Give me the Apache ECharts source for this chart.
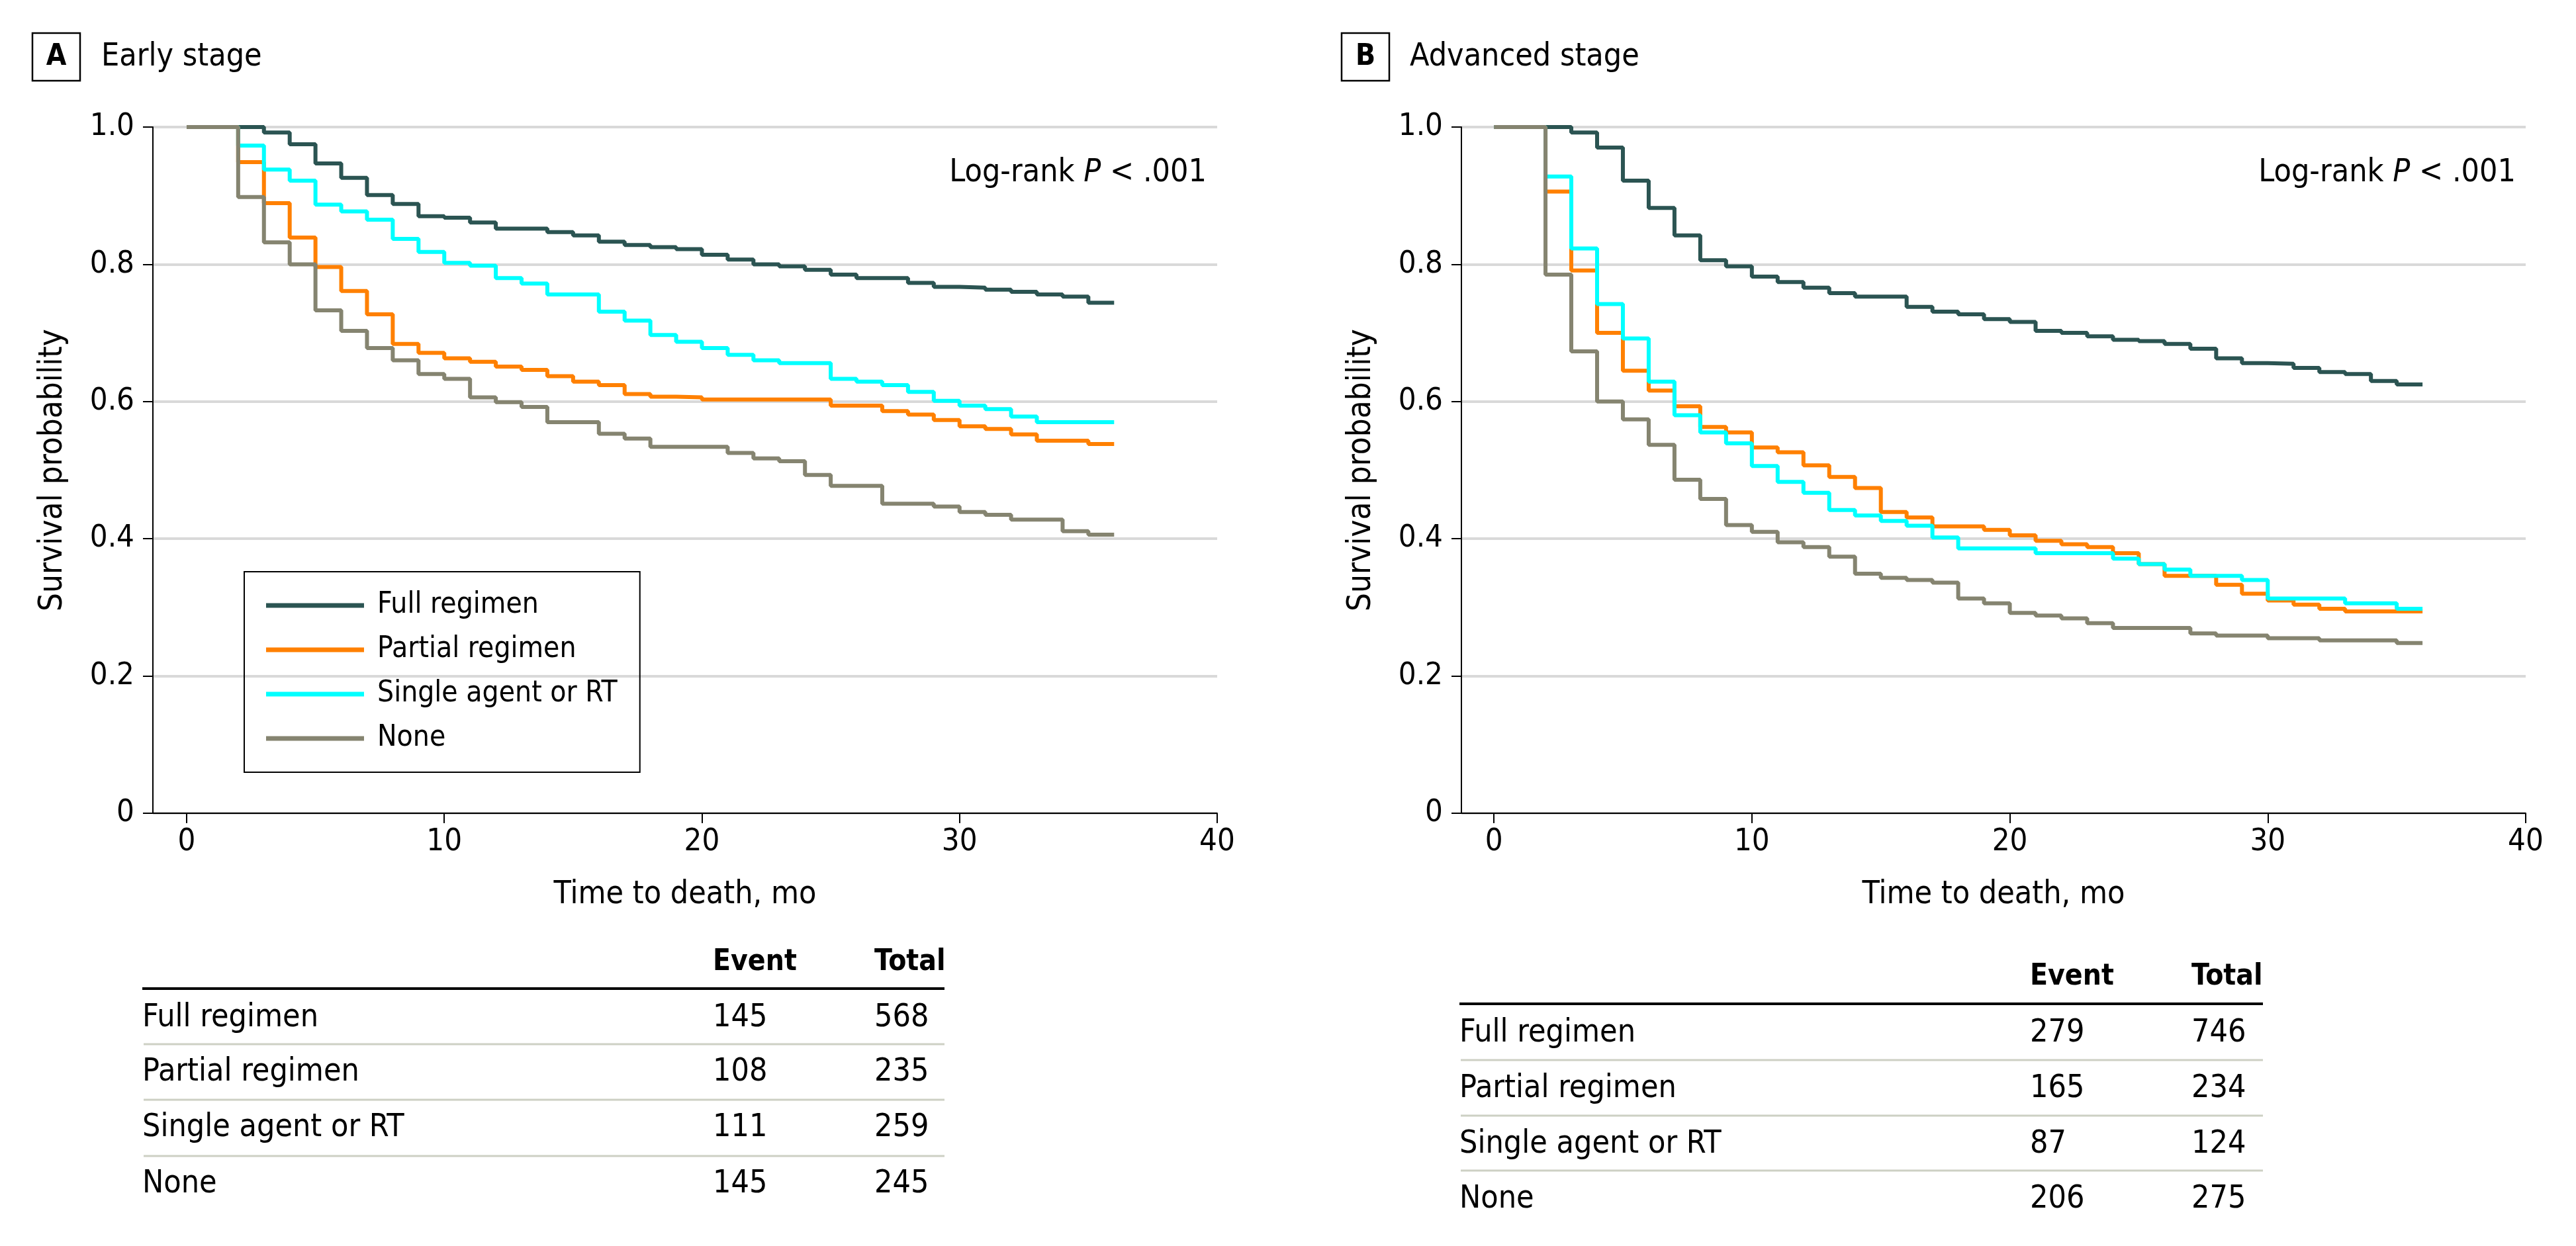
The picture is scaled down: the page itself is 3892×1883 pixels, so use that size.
<!DOCTYPE html>
<html>
<head>
<meta charset="utf-8">
<script src="https://cdn.jsdelivr.net/npm/echarts@6/dist/echarts.min.js"></script>
<style>
html,body{margin:0;padding:0;background:#fff;}
#c{width:3892px;height:1883px;}
</style>
</head>
<body>
<div id="c"></div>
<script>
// ---------- data ----------
const months = [0,1,2,3,4,5,6,7,8,9,10,11,12,13,14,15,16,17,18,19,20,21,22,23,24,25,26,27,28,29,30,31,32,33,34,35,36];
const groups = ['Full regimen','Partial regimen','Single agent or RT','None'];

const earlyFull    = [1,1,1,0.992,0.975,0.947,0.926,0.901,0.888,0.870,0.868,0.861,0.852,0.852,0.847,0.842,0.833,0.828,0.825,0.822,0.814,0.807,0.800,0.797,0.792,0.785,0.780,0.780,0.773,0.767,0.766,0.763,0.760,0.756,0.753,0.744,0.744];
const earlyPartial = [1,1,0.949,0.889,0.839,0.796,0.761,0.727,0.684,0.671,0.663,0.658,0.651,0.646,0.637,0.629,0.624,0.611,0.607,0.606,0.603,0.603,0.603,0.603,0.603,0.594,0.594,0.586,0.581,0.573,0.564,0.560,0.552,0.543,0.543,0.538,0.538];
const earlySingle  = [1,1,0.973,0.938,0.922,0.887,0.877,0.865,0.837,0.818,0.802,0.798,0.780,0.772,0.756,0.756,0.731,0.718,0.697,0.687,0.678,0.668,0.660,0.656,0.656,0.633,0.629,0.624,0.614,0.601,0.594,0.589,0.578,0.570,0.570,0.570,0.570];
const earlyNone    = [1,1,0.898,0.832,0.800,0.733,0.703,0.678,0.660,0.640,0.633,0.606,0.599,0.592,0.570,0.570,0.553,0.546,0.534,0.534,0.534,0.525,0.517,0.513,0.493,0.477,0.477,0.451,0.451,0.447,0.439,0.435,0.428,0.428,0.411,0.406,0.406];

const advFull    = [1,1,1,0.992,0.970,0.922,0.882,0.842,0.806,0.797,0.782,0.774,0.766,0.758,0.753,0.753,0.738,0.731,0.727,0.720,0.716,0.703,0.700,0.695,0.690,0.688,0.684,0.677,0.663,0.656,0.655,0.649,0.643,0.640,0.630,0.625,0.625];
const advPartial = [1,1,0.906,0.791,0.700,0.645,0.616,0.593,0.563,0.555,0.533,0.526,0.507,0.490,0.474,0.439,0.431,0.418,0.418,0.413,0.405,0.397,0.392,0.388,0.379,0.363,0.346,0.346,0.333,0.320,0.310,0.304,0.298,0.294,0.294,0.294,0.294];
const advSingle  = [1,1,0.928,0.823,0.742,0.692,0.629,0.580,0.555,0.539,0.506,0.483,0.467,0.442,0.434,0.426,0.419,0.402,0.386,0.386,0.386,0.379,0.379,0.379,0.371,0.363,0.355,0.346,0.346,0.340,0.313,0.313,0.313,0.306,0.306,0.298,0.298];
const advNone    = [1,1,0.785,0.673,0.600,0.574,0.537,0.486,0.458,0.420,0.410,0.395,0.388,0.374,0.349,0.343,0.340,0.336,0.313,0.306,0.292,0.288,0.284,0.277,0.270,0.270,0.270,0.262,0.259,0.259,0.255,0.255,0.252,0.252,0.252,0.248,0.248];

const xTicks = [0,10,20,30,40];
const tableHeaders = ['Event','Total'];
const earlyEvents = [145,108,111,145];
const earlyTotals = [568,235,259,245];
const advEvents   = [279,165,87,206];
const advTotals   = [746,234,124,275];

const panelTitles = ['Early stage','Advanced stage'];
const panelLetters = ['A','B'];
const pText = ['Log-rank ','P',' < .001'];

// ---------- style ----------
const FF = '"DejaVu Sans Condensed", "DejaVu Sans", sans-serif';
const colors = ['#2b5452','#ff8000','#00ffff','#858470'];

const layouts = [
  {gridLeft:231, xMin:-1.31, boxX:49, titleX:153, logX:1823,
   tblLeft:215, tblEvent:1077, tblTotal:1321, tblRight:1427, headY:1455, thickY:1494,
   rowY:[1539,1621,1705,1790], sepY:[1578,1662,1747]},
  {gridLeft:2208, xMin:-1.26, boxX:2027, titleX:2130, logX:3801,
   tblLeft:2205, tblEvent:3067, tblTotal:3311, tblRight:3419, headY:1477, thickY:1517,
   rowY:[1562,1646,1730,1813], sepY:[1602,1686,1769]}
];

const panelSeries = [
  [earlyFull, earlyPartial, earlySingle, earlyNone],
  [advFull, advPartial, advSingle, advNone]
];
const panelEvents = [earlyEvents, advEvents];
const panelTotals = [earlyTotals, advTotals];

const chart = echarts.init(document.getElementById('c'), null, {renderer:'canvas'});

const grids = [], xAxes = [], yAxes = [], series = [], graphic = [];

layouts.forEach((L, p) => {
  grids.push({left:L.gridLeft, top:192, width:1608, height:1037, containLabel:false});
  xAxes.push({
    type:'value', gridIndex:p, min:L.xMin, max:40,
    name:'Time to death, mo', nameLocation:'middle', nameGap:100,
    nameTextStyle:{fontFamily:FF, fontSize:48, color:'#000'},
    axisLine:{show:true, onZero:false, lineStyle:{color:'#000', width:2}},
    axisTick:{show:true, customValues:xTicks, length:15, lineStyle:{color:'#000', width:2}},
    axisLabel:{show:true, customValues:xTicks, margin:20, fontFamily:FF, fontSize:47, color:'#000'},
    splitLine:{show:false}
  });
  yAxes.push({
    type:'value', gridIndex:p, min:0, max:1, interval:0.2,
    name:'Survival probability', nameLocation:'middle', nameGap:126, nameRotate:90,
    nameTextStyle:{fontFamily:FF, fontSize:49, color:'#000'},
    axisLine:{show:true, onZero:false, lineStyle:{color:'#000', width:2}},
    axisTick:{show:true, length:15, lineStyle:{color:'#000', width:2}},
    axisLabel:{margin:28, fontFamily:FF, fontSize:47, color:'#000',
      formatter: v => (v === 0 ? '0' : v.toFixed(1))},
    splitLine:{show:true, lineStyle:{color:'#d9d9d9', width:4}}
  });
  panelSeries[p].forEach((vals, k) => {
    series.push({
      name:groups[k], type:'line', step:'end', xAxisIndex:p, yAxisIndex:p,
      symbol:'none', showSymbol:false,
      data: months.map((m, i) => [m, vals[i]]),
      lineStyle:{color:colors[k], width:6},
      itemStyle:{color:colors[k]},
      emphasis:{disabled:true},
      z: 2 + k
    });
  });

  // panel header
  graphic.push({type:'rect', shape:{x:L.boxX, y:50, width:72, height:72},
    style:{fill:'none', stroke:'#000', lineWidth:2.5}, silent:true});
  graphic.push({type:'text', x:L.boxX + 36, y:87, silent:true,
    style:{text:panelLetters[p], fontFamily:FF, fontWeight:'bold', fontSize:44, fill:'#000', align:'center', verticalAlign:'middle'}});
  graphic.push({type:'text', x:L.titleX, y:87, silent:true,
    style:{text:panelTitles[p], fontFamily:FF, fontSize:48, fill:'#000', align:'left', verticalAlign:'middle'}});

  // log-rank
  graphic.push({type:'text', x:L.logX, y:262, silent:true,
    style:{text:'{a|' + pText[0] + '}{i|' + pText[1] + '}{a|' + pText[2] + '}',
      align:'right', verticalAlign:'middle',
      rich:{a:{fontFamily:FF, fontSize:48, fill:'#000', color:'#000'},
            i:{fontFamily:FF, fontSize:48, fontStyle:'italic', fill:'#000', color:'#000'}}}});

  // table
  graphic.push({type:'text', x:L.tblEvent, y:L.headY, silent:true,
    style:{text:tableHeaders[0], fontFamily:FF, fontWeight:'bold', fontSize:44, fill:'#000', align:'left', verticalAlign:'middle'}});
  graphic.push({type:'text', x:L.tblTotal, y:L.headY, silent:true,
    style:{text:tableHeaders[1], fontFamily:FF, fontWeight:'bold', fontSize:44, fill:'#000', align:'left', verticalAlign:'middle'}});
  graphic.push({type:'rect', shape:{x:L.tblLeft, y:L.thickY - 2, width:L.tblRight - L.tblLeft, height:4},
    style:{fill:'#000'}, silent:true});
  L.sepY.forEach(y => graphic.push({type:'rect', shape:{x:L.tblLeft + 2, y:y - 1.5, width:L.tblRight - L.tblLeft - 2, height:3},
    style:{fill:'#cdd0c4'}, silent:true}));
  groups.forEach((g, r) => {
    graphic.push({type:'text', x:L.tblLeft, y:L.rowY[r], silent:true,
      style:{text:g, fontFamily:FF, fontSize:48, fill:'#000', align:'left', verticalAlign:'middle'}});
    graphic.push({type:'text', x:L.tblEvent, y:L.rowY[r], silent:true,
      style:{text:String(panelEvents[p][r]), fontFamily:FF, fontSize:48, fill:'#000', align:'left', verticalAlign:'middle'}});
    graphic.push({type:'text', x:L.tblTotal, y:L.rowY[r], silent:true,
      style:{text:String(panelTotals[p][r]), fontFamily:FF, fontSize:48, fill:'#000', align:'left', verticalAlign:'middle'}});
  });
});

chart.setOption({
  animation:false,
  backgroundColor:'#fff',
  grid:grids,
  xAxis:xAxes,
  yAxis:yAxes,
  legend:{
    data:groups, orient:'vertical', left:369, top:864,
    padding:[26,34,26,33], itemWidth:148, itemHeight:7, itemGap:17, icon:'rect',
    borderColor:'#000', borderWidth:2, selectedMode:false,
    textStyle:{fontFamily:FF, fontSize:44, color:'#000', padding:[0,0,0,15], lineHeight:50}
  },
  series:series,
  graphic:graphic
});
</script>
</body>
</html>
